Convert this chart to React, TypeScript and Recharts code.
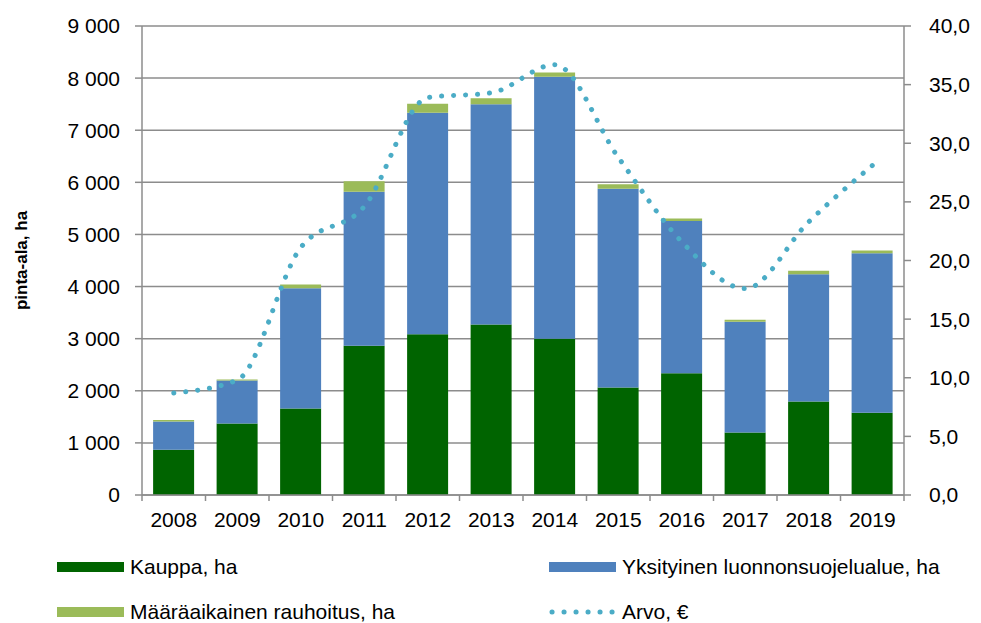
import React from 'react';
import { ComposedChart, Bar, Line, XAxis, YAxis, CartesianGrid, Legend } from 'recharts';

const years = ['2008', '2009', '2010', '2011', '2012', '2013', '2014', '2015', '2016', '2017', '2018', '2019'];
const kauppa = [870, 1370, 1660, 2865, 3085, 3270, 3000, 2065, 2335, 1200, 1795, 1580];
const yksityinen = [540, 828, 2307, 2956, 4248, 4230, 5025, 3813, 2921, 2127, 2442, 3061];
const maaraaikainen = [27, 19, 71, 198, 173, 115, 84, 84, 52, 38, 64, 51];
const arvo = [8.7, 9.8, 21.1, 24.6, 33.9, 34.3, 36.7, 28.8, 21.6, 17.6, 23.3, 28.1];
const leftTicks = [0, 1000, 2000, 3000, 4000, 5000, 6000, 7000, 8000, 9000];
const rightTicks = [0, 5, 10, 15, 20, 25, 30, 35, 40];

const data = years.map((year, i) => ({
  year,
  kauppa: kauppa[i],
  yksityinen: yksityinen[i],
  maaraaikainen: maaraaikainen[i],
  arvo: arvo[i],
}));

const W = 981;
const H = 623;
const LEFT_W = 142;
const RIGHT_W = 77;
const BAND = (W - LEFT_W - RIGHT_W) / years.length;
const FONT = '"Liberation Sans", Arial, sans-serif';
const AXIS = '#8c8c8c';
const C_GREEN = '#006400';
const C_BLUE = '#4F81BD';
const C_LIGHT = '#9BBB59';
const C_LINE = '#4BACC6';
const FS = 21;

const fmtLeft = (v: number) => (v >= 1000 ? `${Math.floor(v / 1000)} ${String(v % 1000).padStart(3, '0')}` : String(v));
const fmtRight = (v: number) => v.toFixed(1).replace('.', ',');

const XTick = (props: any) => {
  const { x, y, payload, index } = props;
  const last = index === years.length - 1;
  return (
    <g>
      <line x1={x - BAND / 2} y1={y} x2={x - BAND / 2} y2={y + 6} stroke={AXIS} strokeWidth={1.5} />
      {last && <line x1={x + BAND / 2} y1={y} x2={x + BAND / 2} y2={y + 6} stroke={AXIS} strokeWidth={1.5} />}
      <text x={x} y={y + 32} textAnchor="middle" fill="#000" fontSize={FS} fontFamily={FONT}>
        {payload.value}
      </text>
    </g>
  );
};

const legendItems = [
  { label: 'Kauppa, ha', color: C_GREEN, left: 57, top: 22, kind: 'rect' },
  { label: 'Yksityinen luonnonsuojelualue, ha', color: C_BLUE, left: 549, top: 22, kind: 'rect' },
  { label: 'Määräaikainen rauhoitus, ha', color: C_LIGHT, left: 57, top: 67, kind: 'rect' },
  { label: 'Arvo, €', color: C_LINE, left: 549, top: 67, kind: 'line' },
];

const LegendContent = () => (
  <div style={{ position: 'relative', width: W, height: 78, fontFamily: FONT, fontSize: FS, color: '#000' }}>
    {legendItems.map((it) => (
      <div key={it.label} style={{ position: 'absolute', left: it.left, top: it.top - 12, height: 24, display: 'flex', alignItems: 'center', whiteSpace: 'nowrap' }}>
        {it.kind === 'rect' ? (
          <div style={{ width: 67, height: 10, background: it.color }} />
        ) : (
          <svg width={67} height={10}>
            <line x1={3} y1={5} x2={66} y2={5} stroke={it.color} strokeWidth={5} strokeDasharray="0.1 11.9" strokeLinecap="round" />
          </svg>
        )}
        <span style={{ marginLeft: 6 }}>{it.label}</span>
      </div>
    ))}
  </div>
);

export default function App() {
  return (
    <div style={{ position: 'absolute', left: 0, top: 0, width: W, height: H, background: '#fff' }}>
      <ComposedChart
        width={W}
        height={H}
        data={data}
        margin={{ top: 26, right: 0, bottom: 78, left: 0 }}
        barCategoryGap="17.5%"
      >
        <CartesianGrid yAxisId="left" vertical={false} stroke={AXIS} strokeWidth={1.5} />
        <XAxis
          dataKey="year"
          tickLine={false}
          tickSize={0}
          tickMargin={0}
          height={50}
          axisLine={{ stroke: AXIS, strokeWidth: 1.5 }}
          tick={<XTick />}
          interval={0}
        />
        <YAxis
          yAxisId="left"
          width={LEFT_W}
          domain={[0, 9000]}
          ticks={leftTicks}
          tickFormatter={fmtLeft}
          tickSize={7}
          tickMargin={15}
          tickLine={{ stroke: AXIS, strokeWidth: 1.5 }}
          axisLine={{ stroke: AXIS, strokeWidth: 1.5 }}
          tick={{ fill: '#000', fontSize: FS, fontFamily: FONT }}
          label={{ value: 'pinta-ala, ha', angle: -90, position: 'center', dx: -50, style: { fontWeight: 'bold', fontSize: 17, fontFamily: FONT, fill: '#000' } }}
        />
        <YAxis
          yAxisId="right"
          orientation="right"
          width={RIGHT_W}
          domain={[0, 40]}
          ticks={rightTicks}
          tickFormatter={fmtRight}
          tickSize={7}
          tickMargin={18}
          tickLine={{ stroke: AXIS, strokeWidth: 1.5 }}
          axisLine={{ stroke: AXIS, strokeWidth: 1.5 }}
          tick={{ fill: '#000', fontSize: FS, fontFamily: FONT, textAnchor: 'start' }}
        />
        <Bar yAxisId="left" dataKey="kauppa" name="Kauppa, ha" stackId="a" fill={C_GREEN} isAnimationActive={false} />
        <Bar yAxisId="left" dataKey="yksityinen" name="Yksityinen luonnonsuojelualue, ha" stackId="a" fill={C_BLUE} isAnimationActive={false} />
        <Bar yAxisId="left" dataKey="maaraaikainen" name="Määräaikainen rauhoitus, ha" stackId="a" fill={C_LIGHT} isAnimationActive={false} />
        <Line
          yAxisId="right"
          type="monotone"
          dataKey="arvo"
          name="Arvo, €"
          stroke={C_LINE}
          strokeWidth={5}
          strokeDasharray="0.1 11.9"
          strokeLinecap="round"
          dot={false}
          activeDot={false}
          isAnimationActive={false}
        />
        <Legend
          layout="horizontal"
          verticalAlign="middle"
          align="center"
          content={<LegendContent />}
          wrapperStyle={{ position: 'absolute', top: 545, left: 0, width: W, height: 78 }}
        />
      </ComposedChart>
    </div>
  );
}
